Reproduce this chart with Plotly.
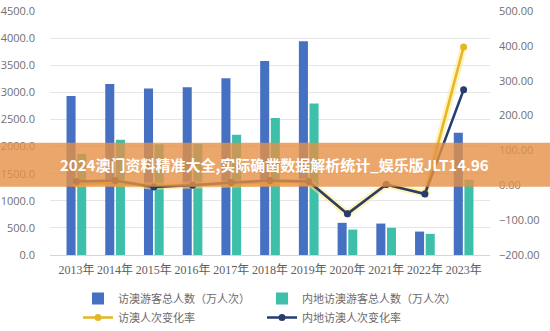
import plotly.graph_objects as go

years = ["2013年", "2014年", "2015年", "2016年", "2017年", "2018年",
         "2019年", "2020年", "2021年", "2022年", "2023年"]
total_visitors = [2932, 3152, 3071, 3095, 3261, 3580, 3941, 593, 580, 432, 2255]
mainland_visitors = [1863, 2125, 2041, 2045, 2220, 2526, 2792, 469, 501, 390, 1390]
total_change = [4.4, 7.5, -2.6, 0.8, 5.4, 9.8, 10.1, -82, 2, -24, 397]
mainland_change = [11, 14, -5, 0, 8, 14, 11, -82, 2, -25, 274]

left_ticks = [0, 500, 1000, 1500, 2000, 2500, 3000, 3500, 4000, 4500]
right_ticks = [-200, -100, 0, 100, 200, 300, 400, 500]
banner_text = "2024澳门资料精准大全,实际确凿数据解析统计_娱乐版JLT14.96"

BLUE = "#4670C2"
TEAL = "#3DBFAA"
GOLD = "#E6B625"
NAVY = "#263D6E"
GRAY = "#707070"
CJK = "Noto Sans CJK SC"

fig = go.Figure()
fig.add_trace(go.Bar(x=years, y=total_visitors, name="访澳游客总人数（万人次）",
                     marker=dict(color=BLUE, line=dict(width=0)), legend="legend"))
fig.add_trace(go.Bar(x=years, y=mainland_visitors, name="内地访澳游客总人数（万人次）",
                     marker=dict(color=TEAL, line=dict(width=0)), legend="legend2"))
fig.add_trace(go.Scatter(x=years, y=total_change, yaxis="y2", mode="lines",
                         line=dict(color="rgba(255,232,130,0.55)", width=7),
                         showlegend=False, hoverinfo="skip"))
fig.add_trace(go.Scatter(x=years, y=total_change, yaxis="y2", mode="lines+markers",
                         name="访澳人次变化率", legend="legend",
                         line=dict(color=GOLD, width=2.5),
                         marker=dict(color=GOLD, size=7)))
fig.add_trace(go.Scatter(x=years, y=mainland_change, yaxis="y2", mode="lines+markers",
                         name="内地访澳人次变化率", legend="legend2",
                         line=dict(color=NAVY, width=2.5),
                         marker=dict(color=NAVY, size=7)))

legend_common = dict(orientation="v", xref="container", yref="container",
                     xanchor="left", y=(331 - 284) / 331, yanchor="top",
                     traceorder="normal", tracegroupgap=0, itemwidth=30,
                     font=dict(family=CJK, size=11, color="#6A6A6A"),
                     bgcolor="rgba(0,0,0,0)")

fig.update_layout(
    width=550, height=331,
    margin=dict(l=50, r=60, t=11, b=76, autoexpand=False),
    paper_bgcolor="white", plot_bgcolor="white",
    barmode="group", bargap=0.45, bargroupgap=0.15,
    font=dict(family=CJK, color=GRAY, size=11),
    xaxis=dict(type="category", showgrid=False, showline=False, zeroline=False,
               ticks="", tickangle=0,
               tickfont=dict(family="Liberation Serif, " + CJK, size=12, color="#606060"),
               ticklabelstandoff=6),
    yaxis=dict(range=[0, 4500], tickvals=left_ticks, tickformat=".1f",
               showgrid=True, gridcolor="#E6E6E6", gridwidth=1,
               zeroline=True, zerolinecolor="#D6D6D6", zerolinewidth=1,
               showline=False, ticks="", ticklabelstandoff=14,
               tickfont=dict(family="Open Sans, " + CJK, size=11, color=GRAY)),
    yaxis2=dict(range=[-200, 500], tickvals=right_ticks, tickformat=".2f", ticksuffix="%",
                overlaying="y", side="right", showgrid=False, zeroline=False,
                showline=False, ticks="", ticklabelstandoff=8,
                tickfont=dict(family="Open Sans, " + CJK, size=11, color=GRAY)),
    legend=dict(x=78 / 550, **legend_common),
    legend2=dict(x=262 / 550, **legend_common),
    showlegend=True,
)

fig.add_shape(type="rect", xref="paper", yref="paper",
              x0=-50 / 440, x1=500 / 440, y0=0.280, y1=0.460,
              fillcolor="rgba(230,145,70,0.8)", line=dict(width=0), layer="above")
fig.add_annotation(text=banner_text, xref="paper", yref="paper",
                   x=0.511, y=0.372, showarrow=False,
                   font=dict(family=CJK, size=15, color="white", weight="bold"))

fig.write_html("out.html")
